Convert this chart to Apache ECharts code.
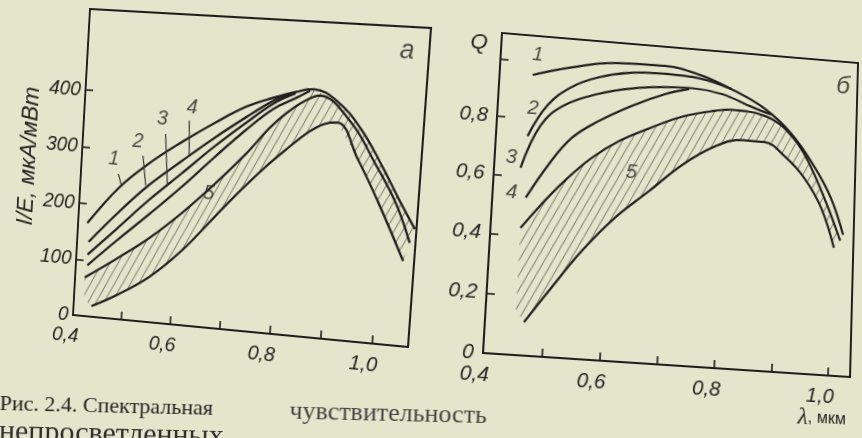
<!DOCTYPE html>
<html><head><meta charset="utf-8">
<script src="https://cdn.jsdelivr.net/npm/echarts@6/dist/echarts.min.js"></script>
<style>
html,body{margin:0;padding:0;width:862px;height:438px;overflow:hidden;background:#e4e6cc;}
.pane{position:absolute;left:0;top:0;transform-origin:0 0;}
#ca{width:520px;height:400px;}
#cb{width:420px;height:430px;}
#cc{width:760px;height:70px;top:388px;transform:rotate(1.3deg);}
</style></head><body>
<div id="ca" class="pane"></div>
<div id="cb" class="pane"></div>
<div id="cc" class="pane"></div>
<script>
// ---------- DATA: panel а (I/E, мкА/мВт vs λ, мкм) ----------
const aXTicks  = [0.5, 0.6, 0.7, 0.8, 0.9, 1.0];
const aXLabels = [0.4, 0.6, 0.8, 1.0];
const aYTicks  = [100, 200, 300, 400];
const aYLabels = [0, 100, 200, 300, 400];
const aCurve1 = [[0.419,166],[0.481,234],[0.539,280],[0.602,321],[0.665,358],[0.726,390],[0.777,408],[0.822,421],[0.855,427],[0.901,410],[0.951,365],[0.996,305],[1.033,250],[1.067,202]];
const aCurve2 = [[0.424,133],[0.478,186],[0.541,242],[0.604,288],[0.666,332],[0.727,372],[0.778,403],[0.810,416]];
const aCurve3 = [[0.423,110],[0.480,160],[0.543,216],[0.606,267],[0.667,317],[0.727,362],[0.778,398],[0.820,418]];
const aCurve4 = [[0.424,91],[0.481,139],[0.545,191],[0.608,244],[0.669,299],[0.728,350],[0.779,389],[0.823,411],[0.848,424]];
const aUpper5 = [[0.420,69],[0.483,107],[0.548,149],[0.611,198],[0.672,252],[0.732,310],[0.774,356],[0.806,384],[0.837,405],[0.868,417],[0.931,375],[0.982,309],[1.027,244],[1.059,178]];
const aLower5 = [[0.437,19],[0.488,43],[0.553,81],[0.615,132],[0.676,195],[0.726,246],[0.769,287],[0.810,322],[0.848,352],[0.879,369],[0.905,373],[0.949,313],[0.994,242],[1.049,146]];
const aBandLeft = [[0.421,30]];
const aLeaders = [[[0.477,257],[0.485,236]],[[0.525,292],[0.534,240]],[[0.568,333],[0.578,242]],[[0.614,359],[0.618,298]]];
const aNumLabels = [[0.466,283,'1'],[0.513,317,'2'],[0.560,359,'3'],[0.618,382,'4'],[0.662,234,'5']];
const aTag = [[1.028,502,'а']];

// ---------- DATA: panel б (Q vs λ, мкм) ----------
const bXTicks  = [0.5, 0.6, 0.7, 0.8, 0.9, 1.0];
const bXLabels = [0.4, 0.6, 0.8, 1.0];
const bYTicks  = [0.2, 0.4, 0.6, 0.8, 1.0];
const bYLabels = [0, 0.2, 0.4, 0.6, 0.8];
const bCurve1 = [[0.458,0.953],[0.525,0.990],[0.602,1.018],[0.691,1.022],[0.753,1.002],[0.812,0.960],[0.873,0.901],[0.922,0.822],[0.965,0.714],[0.997,0.608],[1.021,0.483]];
const bCurve2 = [[0.455,0.740],[0.487,0.852],[0.527,0.921],[0.574,0.963],[0.633,0.989],[0.692,0.995],[0.753,0.989],[0.812,0.960]];
const bCurve3 = [[0.446,0.630],[0.477,0.781],[0.516,0.856],[0.576,0.906],[0.634,0.934],[0.693,0.948],[0.741,0.952],[0.795,0.940],[0.849,0.904],[0.885,0.882]];
const bCurve4 = [[0.458,0.530],[0.494,0.647],[0.532,0.745],[0.578,0.811],[0.636,0.874],[0.694,0.924],[0.736,0.948]];
const bUpper5 = [[0.452,0.426],[0.485,0.509],[0.524,0.597],[0.569,0.682],[0.616,0.748],[0.668,0.800],[0.726,0.850],[0.785,0.880],[0.814,0.888],[0.873,0.876],[0.910,0.837],[0.954,0.730],[1.016,0.462]];
const bLower5 = [[0.467,0.111],[0.506,0.219],[0.560,0.363],[0.615,0.484],[0.673,0.584],[0.729,0.682],[0.787,0.756],[0.835,0.785],[0.875,0.784],[0.911,0.741],[0.948,0.670],[0.980,0.571],[1.005,0.436]];
const bBandLeft = [[0.452,0.15]];
const bNumLabels = [[0.465,1.025,'1'],[0.462,0.837,'2'],[0.429,0.662,'3'],[0.433,0.543,'4'],[0.640,0.641,'5']];
const bTag = [[1.014,1.0,'б']];

// ---------- helpers ----------
const INK = '#1e1e1e';
const TXT = '#242424';
const tickFont = {fontFamily:'"Liberation Sans", Arial, sans-serif', fontStyle:'italic', fontSize:20, color:TXT};
const fmtDec = v => (Math.abs(v) < 1e-9 ? '0' : v.toFixed(1).replace('.', ','));

function solve(A, b) {
  const n = b.length;
  const M = A.map((r, i) => r.concat([b[i]]));
  for (let c = 0; c < n; c++) {
    let p = c;
    for (let r = c + 1; r < n; r++) if (Math.abs(M[r][c]) > Math.abs(M[p][c])) p = r;
    [M[c], M[p]] = [M[p], M[c]];
    for (let r = 0; r < n; r++) {
      if (r === c) continue;
      const f = M[r][c] / M[c][c];
      for (let k = c; k <= n; k++) M[r][k] -= f * M[c][k];
    }
  }
  return M.map((row, i) => row[n] / row[i]);
}
function matrix3d(src, dst) {
  const A = [], b = [];
  for (let i = 0; i < 4; i++) {
    const [x, y] = src[i], [X, Y] = dst[i];
    A.push([x, y, 1, 0, 0, 0, -x * X, -y * X]); b.push(X);
    A.push([0, 0, 0, x, y, 1, -x * Y, -y * Y]); b.push(Y);
  }
  const h = solve(A, b);
  return `matrix3d(${h[0]},${h[3]},0,${h[6]},${h[1]},${h[4]},0,${h[7]},0,0,1,0,${h[2]},${h[5]},0,1)`;
}
function makeHatch(w, h, color) {
  const c = document.createElement('canvas');
  c.width = w; c.height = h;
  const g = c.getContext('2d');
  g.strokeStyle = color; g.lineWidth = 1;
  g.beginPath();
  for (let k = -1; k <= 1; k++) { g.moveTo(k * w, h); g.lineTo(k * w + w, 0); }
  g.stroke();
  return c;
}
const hatch = makeHatch(8, 16, 'rgba(40,40,40,0.6)');

function bandSeries(upper, lower, leftClose) {
  const pts = upper.concat(lower.slice().reverse(), leftClose);
  return {
    type: 'custom', coordinateSystem: 'cartesian2d', silent: true, z: 1,
    data: [pts[0]],
    renderItem: (params, api) => ({
      type: 'polygon',
      shape: { points: pts.map(p => api.coord(p)) },
      style: { fill: { image: hatch, repeat: 'repeat' }, stroke: null }
    })
  };
}
function curve(data) {
  return { type: 'line', data: data, symbol: 'none', smooth: 0.4, z: 3,
    lineStyle: { color: INK, width: 2.2 }, silent: true };
}
function leader(data) {
  return { type: 'line', data: data, symbol: 'none', z: 3, lineStyle: { color: '#333', width: 1.2 }, silent: true };
}
function textMarks(data, size) {
  return { type: 'scatter', data: data, symbolSize: 1, itemStyle: { color: 'transparent' }, z: 5, silent: true,
    label: { show: true, position: 'inside', formatter: p => p.data[2], fontFamily: '"Liberation Sans", Arial, sans-serif',
      fontStyle: 'italic', fontSize: size, color: TXT } };
}
function axes(xmin, xmax, xt, xl, ymin, ymax, yt, yl, yfmt, ymargin) {
  return {
    xAxis: { type: 'value', min: xmin, max: xmax, axisLine: { show: false }, splitLine: { show: false },
      axisTick: { show: true, inside: true, length: 8, customValues: xt, lineStyle: { color: INK, width: 1.6 } },
      axisLabel: Object.assign({ show: true, customValues: xl, formatter: fmtDec, margin: 11, padding: [0, 14, 0, 0] }, tickFont) },
    yAxis: { type: 'value', min: ymin, max: ymax, axisLine: { show: false }, splitLine: { show: false },
      axisTick: { show: true, inside: true, length: 8, customValues: yt, lineStyle: { color: INK, width: 1.6 } },
      axisLabel: Object.assign({ show: true, customValues: yl, formatter: yfmt, margin: ymargin }, tickFont) }
  };
}

// ---------- layout: map each flat panel onto the photographed, skewed page ----------
document.getElementById('ca').style.transform =
  matrix3d([[80,30],[421,30],[421,336],[80,336]], [[90,9],[431,28],[408,347],[73,315]]);
document.getElementById('cb').style.transform =
  matrix3d([[50,30],[410,30],[410,350],[50,350]], [[502,33],[858,63],[850,377],[483,353]]);

// ---------- panel а ----------
const chartA = echarts.init(document.getElementById('ca'), null, { renderer: 'canvas' });
chartA.setOption(Object.assign({
  animation: false, backgroundColor: 'transparent', tooltip: { show: false },
  grid: { left: 80, top: 30, width: 341, height: 306, show: true, borderColor: INK, borderWidth: 2,
    backgroundColor: 'transparent', containLabel: false, outerBoundsMode: 'none' },
  graphic: [
    { type: 'text', x: 25, y: 180, rotation: Math.PI / 2,
      style: { text: 'I/E, мкА/мВт', font: 'italic 23px "Liberation Sans"', fill: TXT, align: 'center', verticalAlign: 'middle' } }
  ],
  series: [
    bandSeries(aUpper5.slice(0, 9).concat(aCurve1.slice(8)), aLower5, aBandLeft),
    curve(aCurve1), curve(aCurve2), curve(aCurve3), curve(aCurve4), curve(aUpper5), curve(aLower5),
    leader(aLeaders[0]), leader(aLeaders[1]), leader(aLeaders[2]), leader(aLeaders[3]),
    textMarks(aNumLabels, 20), textMarks(aTag, 25)
  ]
}, axes(0.4, 1.07, aXTicks, aXLabels, 0, 542, aYTicks, aYLabels, v => String(Math.round(v)), 5)));

// ---------- panel б ----------
const chartB = echarts.init(document.getElementById('cb'), null, { renderer: 'canvas' });
chartB.setOption(Object.assign({
  animation: false, backgroundColor: 'transparent', tooltip: { show: false },
  grid: { left: 50, top: 30, width: 360, height: 320, show: true, borderColor: INK, borderWidth: 2,
    backgroundColor: 'transparent', containLabel: false, outerBoundsMode: 'none' },
  graphic: [
    { type: 'text', x: 28, y: 42,
      style: { text: 'Q', font: 'italic 22px "Liberation Sans"', fill: TXT, align: 'center', verticalAlign: 'middle' } },
    { type: 'text', x: 383, y: 393,
      style: { text: '{l|λ}{m|, мкм}', align: 'center', verticalAlign: 'middle', fill: TXT,
        rich: { l: { font: 'italic 23px "Liberation Serif"', fill: TXT }, m: { font: '16px "Liberation Sans"', fill: TXT } } } }
  ],
  series: [
    bandSeries(bUpper5, bLower5, bBandLeft),
    curve(bCurve1), curve(bCurve2), curve(bCurve3), curve(bCurve4), curve(bUpper5), curve(bLower5),
    textMarks(bNumLabels, 20), textMarks(bTag, 25)
  ]
}, axes(0.4, 1.04, bXTicks, bXLabels, 0, 1.09, bYTicks, bYLabels, fmtDec, 9)));

// ---------- caption ----------
const chartC = echarts.init(document.getElementById('cc'), null, { renderer: 'canvas' });
chartC.setOption({
  animation: false, backgroundColor: 'transparent',
  graphic: [
    { type: 'text', x: 0, y: 16, style: { text: 'Рис. 2.4. Спектральная', font: '22px "Liberation Serif"', fill: '#222', verticalAlign: 'middle' } },
    { type: 'text', x: 290, y: 17, style: { text: 'чувствительность', font: '26px "Liberation Serif"', fill: '#444', verticalAlign: 'middle' } },
    { type: 'text', x: 0, y: 44, style: { text: 'непросветленных', font: '30px "Liberation Serif"', fill: '#2e2e2e', verticalAlign: 'middle' } }
  ]
});
</script>
</body></html>
